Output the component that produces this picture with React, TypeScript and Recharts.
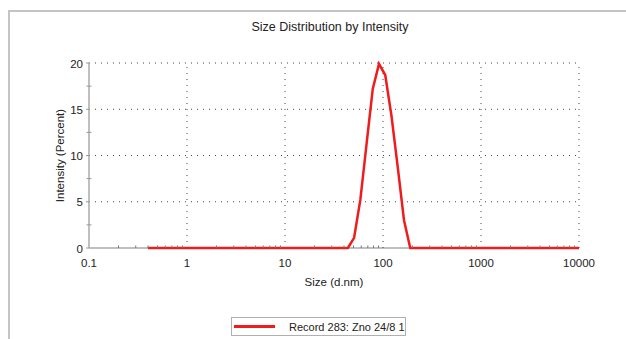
import React from 'react';
import { LineChart, Line, XAxis, YAxis, ReferenceLine, Label } from 'recharts';

const sizes = [0.4, 43.8, 50.7, 58.7, 67.9, 78.6, 91.0, 105.4, 122.0, 141.2, 163.8, 189.6, 10000];
const intensity = [0, 0, 1.1, 5.2, 11.2, 17.2, 19.9, 18.7, 14.3, 8.8, 3.0, 0, 0];

const xMajorTicks = [0.1, 1, 10, 100, 1000, 10000];
const xMinorTicks = [
  0.2, 0.3, 0.4, 0.5, 0.6, 0.7, 0.8, 0.9,
  2, 3, 4, 5, 6, 7, 8, 9,
  20, 30, 40, 50, 60, 70, 80, 90,
  200, 300, 400, 500, 600, 700, 800, 900,
  2000, 3000, 4000, 5000, 6000, 7000, 8000, 9000,
];
const yMajorTicks = [0, 5, 10, 15, 20];
const yMinorTicks = [2.5, 7.5, 12.5, 17.5];
const xGrid = [1, 10, 100, 1000, 10000];
const yGrid = [5, 10, 15, 20];

const title = 'Size Distribution by Intensity';
const xTitle = 'Size (d.nm)';
const yTitle = 'Intensity (Percent)';
const seriesName = 'Record 283: Zno 24/8 1';

const data = sizes.map((s, i) => ({ size: s, intensity: intensity[i] }));

const FONT = '"Liberation Sans", Arial, sans-serif';
const RED = '#ee1c1c';

const XTick = (props: any) => {
  const { x, y, payload } = props;
  const v = payload.value;
  if (xMajorTicks.includes(v)) {
    return (
      <text x={x} y={y + 19} textAnchor="middle" fontSize={11.5} fill="#222" fontFamily={FONT}>
        {String(v)}
      </text>
    );
  }
  return <line x1={x} x2={x} y1={y - 2.5} y2={y} stroke="#777" strokeWidth={1} />;
};

const YTick = (props: any) => {
  const { x, y, payload } = props;
  const v = payload.value;
  if (yMajorTicks.includes(v)) {
    return (
      <g>
        <line x1={x - 3} x2={x} y1={y} y2={y} stroke="#999" strokeWidth={1} />
        <text x={x - 6} y={y + 4.5} textAnchor="end" fontSize={11.5} fill="#222" fontFamily={FONT}>
          {String(v)}
        </text>
      </g>
    );
  }
  return <line x1={x - 2.5} x2={x + 2.5} y1={y} y2={y} stroke="#999" strokeWidth={1} />;
};

export default function App() {
  return (
    <div style={{ position: 'absolute', left: 0, top: 0, width: 626, height: 339, overflow: 'hidden', background: '#fff' }}>
      <div
        style={{
          position: 'absolute',
          left: 8,
          top: 10,
          width: 700,
          height: 400,
          border: '2px solid #c4c4c4',
        }}
      />
      <div
        style={{
          position: 'absolute',
          left: 0,
          width: 660,
          top: 20,
          textAlign: 'center',
          fontFamily: FONT,
          fontSize: 12.5,
          color: '#222',
        }}
      >
        {title}
      </div>
      <div style={{ position: 'absolute', left: 0, top: 0 }}>
        <LineChart
          width={626}
          height={339}
          data={data}
          margin={{ top: 63, right: 47, bottom: 51, left: 59 }}
        >
          <ReferenceLine y={0} stroke="#aaa" strokeWidth={1.5} />
          {yGrid.map((v) => (
            <ReferenceLine key={'y' + v} y={v} stroke="#444" strokeDasharray="1 5" strokeWidth={1} />
          ))}
          {xGrid.map((v) => (
            <ReferenceLine key={'x' + v} x={v} stroke="#444" strokeDasharray="1 5" strokeWidth={1} />
          ))}
          <XAxis
            dataKey="size"
            type="number"
            scale="log"
            domain={[0.1, 10000]}
            ticks={[...xMajorTicks, ...xMinorTicks]}
            interval={0}
            allowDataOverflow
            tickLine={false}
            tickSize={0}
            tickMargin={0}
            axisLine={false}
            tick={<XTick />}
            height={40}
          >
            <Label value={xTitle} position="insideBottom" offset={0} dy={-2} fontSize={11.5} fill="#222" fontFamily={FONT} />
          </XAxis>
          <YAxis
            type="number"
            domain={[0, 20]}
            ticks={[...yMajorTicks, ...yMinorTicks]}
            interval={0}
            tickLine={false}
            tickSize={0}
            tickMargin={0}
            axisLine={{ stroke: '#aaa', strokeWidth: 1.5 }}
            tick={<YTick />}
            width={30}
          >
            <Label value={yTitle} angle={-90} position="center" dx={-14} fontSize={11.5} fill="#222" fontFamily={FONT} />
          </YAxis>
          <Line
            type="linear"
            dataKey="intensity"
            name={seriesName}
            stroke={RED}
            strokeWidth={2.5}
            dot={false}
            isAnimationActive={false}
          />
        </LineChart>
      </div>
      <div
        style={{
          position: 'absolute',
          left: 231,
          top: 317,
          width: 173,
          height: 17,
          border: '1px solid #b0b0b0',
          background: '#fff',
          display: 'flex',
          alignItems: 'center',
          fontFamily: FONT,
          fontSize: 11,
          color: '#222',
        }}
      >
        <div style={{ width: 41, height: 2.5, background: RED, marginLeft: 2 }} />
        <div style={{ marginLeft: 14, whiteSpace: 'nowrap' }}>{seriesName}</div>
      </div>
    </div>
  );
}
